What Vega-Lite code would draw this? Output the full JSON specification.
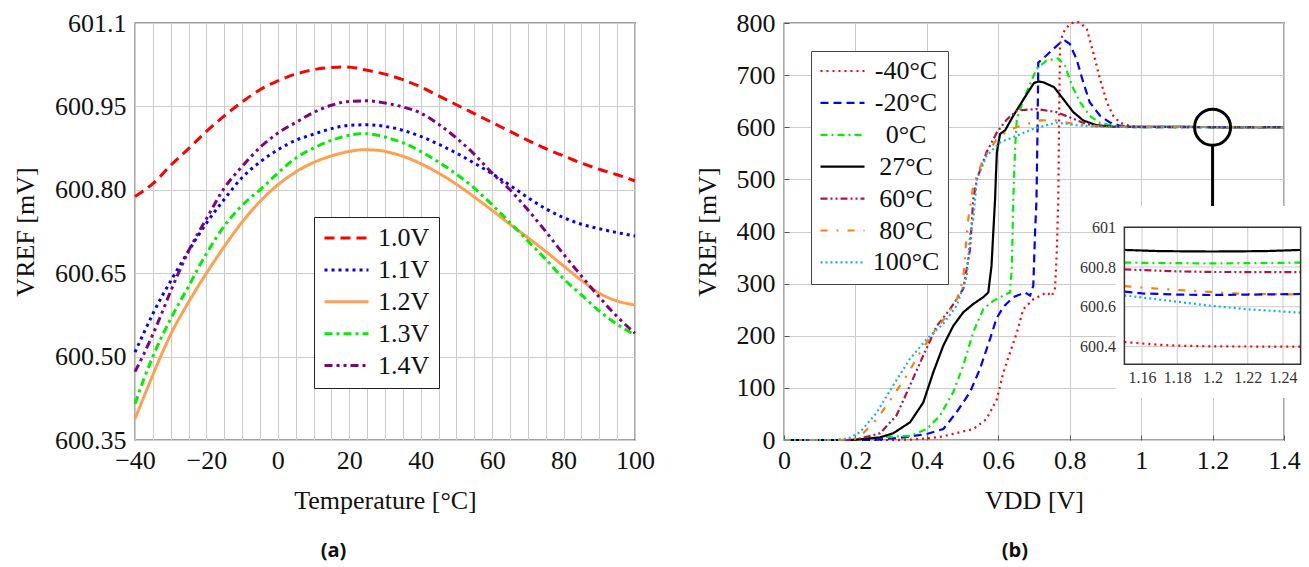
{
  "$schema": "https://vega.github.io/schema/vega-lite/v6.json",
  "autosize": "none",
  "padding": {"left": 135, "top": 23, "right": 1174, "bottom": 544},
  "background": "white",
  "bounds": "flush",
  "spacing": 149,
  "datasets": {
    "a": [
      {"s":"1.0V","T":-40,"V":600.788},{"s":"1.0V","T":-35,"V":600.811},{"s":"1.0V","T":-30,"V":600.844},{"s":"1.0V","T":-25,"V":600.874},{"s":"1.0V","T":-20,"V":600.905},{"s":"1.0V","T":-15,"V":600.933},{"s":"1.0V","T":-10,"V":600.958},{"s":"1.0V","T":-5,"V":600.98},{"s":"1.0V","T":0,"V":600.996},{"s":"1.0V","T":5,"V":601.008},{"s":"1.0V","T":10,"V":601.016},{"s":"1.0V","T":15,"V":601.02},{"s":"1.0V","T":18,"V":601.021},{"s":"1.0V","T":22,"V":601.019},{"s":"1.0V","T":25,"V":601.015},{"s":"1.0V","T":30,"V":601.008},{"s":"1.0V","T":35,"V":600.998},{"s":"1.0V","T":40,"V":600.985},{"s":"1.0V","T":45,"V":600.969},{"s":"1.0V","T":50,"V":600.953},{"s":"1.0V","T":55,"V":600.937},{"s":"1.0V","T":60,"V":600.921},{"s":"1.0V","T":65,"V":600.905},{"s":"1.0V","T":70,"V":600.889},{"s":"1.0V","T":75,"V":600.874},{"s":"1.0V","T":80,"V":600.861},{"s":"1.0V","T":85,"V":600.848},{"s":"1.0V","T":90,"V":600.837},{"s":"1.0V","T":95,"V":600.827},{"s":"1.0V","T":100,"V":600.816},
      {"s":"1.1V","T":-40,"V":600.508},{"s":"1.1V","T":-37.5,"V":600.543},{"s":"1.1V","T":-35,"V":600.577},{"s":"1.1V","T":-32.5,"V":600.608},{"s":"1.1V","T":-30,"V":600.636},{"s":"1.1V","T":-25,"V":600.69},{"s":"1.1V","T":-20,"V":600.74},{"s":"1.1V","T":-15,"V":600.783},{"s":"1.1V","T":-10,"V":600.822},{"s":"1.1V","T":-5,"V":600.85},{"s":"1.1V","T":0,"V":600.872},{"s":"1.1V","T":5,"V":600.889},{"s":"1.1V","T":10,"V":600.9},{"s":"1.1V","T":15,"V":600.91},{"s":"1.1V","T":20,"V":600.916},{"s":"1.1V","T":25,"V":600.917},{"s":"1.1V","T":30,"V":600.914},{"s":"1.1V","T":35,"V":600.907},{"s":"1.1V","T":40,"V":600.896},{"s":"1.1V","T":45,"V":600.882},{"s":"1.1V","T":50,"V":600.866},{"s":"1.1V","T":55,"V":600.848},{"s":"1.1V","T":60,"V":600.829},{"s":"1.1V","T":65,"V":600.808},{"s":"1.1V","T":70,"V":600.786},{"s":"1.1V","T":75,"V":600.766},{"s":"1.1V","T":80,"V":600.75},{"s":"1.1V","T":85,"V":600.738},{"s":"1.1V","T":90,"V":600.73},{"s":"1.1V","T":95,"V":600.723},{"s":"1.1V","T":100,"V":600.717},
      {"s":"1.2V","T":-40,"V":600.388},{"s":"1.2V","T":-37.5,"V":600.428},{"s":"1.2V","T":-35,"V":600.467},{"s":"1.2V","T":-32.5,"V":600.505},{"s":"1.2V","T":-30,"V":600.54},{"s":"1.2V","T":-25,"V":600.598},{"s":"1.2V","T":-20,"V":600.65},{"s":"1.2V","T":-15,"V":600.698},{"s":"1.2V","T":-10,"V":600.742},{"s":"1.2V","T":-5,"V":600.779},{"s":"1.2V","T":0,"V":600.809},{"s":"1.2V","T":5,"V":600.832},{"s":"1.2V","T":10,"V":600.849},{"s":"1.2V","T":15,"V":600.861},{"s":"1.2V","T":20,"V":600.869},{"s":"1.2V","T":24,"V":600.872},{"s":"1.2V","T":28,"V":600.871},{"s":"1.2V","T":32,"V":600.866},{"s":"1.2V","T":36,"V":600.858},{"s":"1.2V","T":40,"V":600.847},{"s":"1.2V","T":45,"V":600.83},{"s":"1.2V","T":50,"V":600.81},{"s":"1.2V","T":55,"V":600.787},{"s":"1.2V","T":60,"V":600.763},{"s":"1.2V","T":65,"V":600.738},{"s":"1.2V","T":70,"V":600.714},{"s":"1.2V","T":75,"V":600.689},{"s":"1.2V","T":80,"V":600.663},{"s":"1.2V","T":85,"V":600.637},{"s":"1.2V","T":90,"V":600.614},{"s":"1.2V","T":95,"V":600.6},{"s":"1.2V","T":100,"V":600.593},
      {"s":"1.3V","T":-40,"V":600.415},{"s":"1.3V","T":-37.5,"V":600.46},{"s":"1.3V","T":-35,"V":600.5},{"s":"1.3V","T":-32.5,"V":600.536},{"s":"1.3V","T":-30,"V":600.568},{"s":"1.3V","T":-27.5,"V":600.598},{"s":"1.3V","T":-25,"V":600.626},{"s":"1.3V","T":-22.5,"V":600.657},{"s":"1.3V","T":-20,"V":600.685},{"s":"1.3V","T":-15,"V":600.735},{"s":"1.3V","T":-10,"V":600.772},{"s":"1.3V","T":-5,"V":600.8},{"s":"1.3V","T":0,"V":600.83},{"s":"1.3V","T":5,"V":600.857},{"s":"1.3V","T":10,"V":600.875},{"s":"1.3V","T":15,"V":600.889},{"s":"1.3V","T":20,"V":600.898},{"s":"1.3V","T":24,"V":600.901},{"s":"1.3V","T":28,"V":600.898},{"s":"1.3V","T":32,"V":600.891},{"s":"1.3V","T":36,"V":600.882},{"s":"1.3V","T":40,"V":600.869},{"s":"1.3V","T":45,"V":600.85},{"s":"1.3V","T":50,"V":600.828},{"s":"1.3V","T":55,"V":600.803},{"s":"1.3V","T":60,"V":600.773},{"s":"1.3V","T":65,"V":600.741},{"s":"1.3V","T":70,"V":600.708},{"s":"1.3V","T":75,"V":600.675},{"s":"1.3V","T":80,"V":600.64},{"s":"1.3V","T":85,"V":600.611},{"s":"1.3V","T":90,"V":600.582},{"s":"1.3V","T":95,"V":600.558},{"s":"1.3V","T":100,"V":600.539},
      {"s":"1.4V","T":-40,"V":600.473},{"s":"1.4V","T":-37.5,"V":600.505},{"s":"1.4V","T":-35,"V":600.54},{"s":"1.4V","T":-32.5,"V":600.578},{"s":"1.4V","T":-30,"V":600.618},{"s":"1.4V","T":-27.5,"V":600.655},{"s":"1.4V","T":-25,"V":600.69},{"s":"1.4V","T":-22.5,"V":600.72},{"s":"1.4V","T":-20,"V":600.748},{"s":"1.4V","T":-15,"V":600.803},{"s":"1.4V","T":-10,"V":600.842},{"s":"1.4V","T":-5,"V":600.876},{"s":"1.4V","T":0,"V":600.902},{"s":"1.4V","T":5,"V":600.921},{"s":"1.4V","T":10,"V":600.939},{"s":"1.4V","T":15,"V":600.952},{"s":"1.4V","T":20,"V":600.959},{"s":"1.4V","T":25,"V":600.96},{"s":"1.4V","T":30,"V":600.956},{"s":"1.4V","T":35,"V":600.949},{"s":"1.4V","T":40,"V":600.938},{"s":"1.4V","T":45,"V":600.918},{"s":"1.4V","T":50,"V":600.893},{"s":"1.4V","T":55,"V":600.864},{"s":"1.4V","T":60,"V":600.83},{"s":"1.4V","T":65,"V":600.8},{"s":"1.4V","T":70,"V":600.764},{"s":"1.4V","T":75,"V":600.725},{"s":"1.4V","T":80,"V":600.684},{"s":"1.4V","T":85,"V":600.645},{"s":"1.4V","T":90,"V":600.607},{"s":"1.4V","T":95,"V":600.572},{"s":"1.4V","T":100,"V":600.542}
    ],
    "bmain": [
      {"T":"-40°C","VDD":0,"V":0},{"T":"-40°C","VDD":0.3,"V":0},{"T":"-40°C","VDD":0.36,"V":1},{"T":"-40°C","VDD":0.4,"V":3},{"T":"-40°C","VDD":0.446,"V":7},{"T":"-40°C","VDD":0.493,"V":15},{"T":"-40°C","VDD":0.53,"V":21},{"T":"-40°C","VDD":0.567,"V":40},{"T":"-40°C","VDD":0.596,"V":78},{"T":"-40°C","VDD":0.614,"V":129},{"T":"-40°C","VDD":0.633,"V":168},{"T":"-40°C","VDD":0.652,"V":206},{"T":"-40°C","VDD":0.67,"V":251},{"T":"-40°C","VDD":0.698,"V":270},{"T":"-40°C","VDD":0.736,"V":283},{"T":"-40°C","VDD":0.75,"V":276},{"T":"-40°C","VDD":0.759,"V":292},{"T":"-40°C","VDD":0.764,"V":366},{"T":"-40°C","VDD":0.768,"V":462},{"T":"-40°C","VDD":0.77,"V":600},{"T":"-40°C","VDD":0.773,"V":760},{"T":"-40°C","VDD":0.782,"V":782},{"T":"-40°C","VDD":0.8,"V":798},{"T":"-40°C","VDD":0.815,"V":802},{"T":"-40°C","VDD":0.829,"V":801},{"T":"-40°C","VDD":0.848,"V":788},{"T":"-40°C","VDD":0.866,"V":743},{"T":"-40°C","VDD":0.885,"V":692},{"T":"-40°C","VDD":0.904,"V":648},{"T":"-40°C","VDD":0.922,"V":622},{"T":"-40°C","VDD":0.94,"V":609},{"T":"-40°C","VDD":0.97,"V":602},{"T":"-40°C","VDD":1.0,"V":600},{"T":"-40°C","VDD":1.4,"V":600},
      {"T":"-20°C","VDD":0,"V":0},{"T":"-20°C","VDD":0.25,"V":0},{"T":"-20°C","VDD":0.334,"V":5},{"T":"-20°C","VDD":0.4,"V":11.5},{"T":"-20°C","VDD":0.446,"V":21},{"T":"-20°C","VDD":0.483,"V":53},{"T":"-20°C","VDD":0.521,"V":92},{"T":"-20°C","VDD":0.549,"V":137},{"T":"-20°C","VDD":0.577,"V":194},{"T":"-20°C","VDD":0.595,"V":233},{"T":"-20°C","VDD":0.614,"V":255},{"T":"-20°C","VDD":0.642,"V":274},{"T":"-20°C","VDD":0.675,"V":283},{"T":"-20°C","VDD":0.689,"V":277},{"T":"-20°C","VDD":0.698,"V":296},{"T":"-20°C","VDD":0.703,"V":398},{"T":"-20°C","VDD":0.707,"V":462},{"T":"-20°C","VDD":0.71,"V":600},{"T":"-20°C","VDD":0.712,"V":724},{"T":"-20°C","VDD":0.727,"V":733},{"T":"-20°C","VDD":0.754,"V":750},{"T":"-20°C","VDD":0.775,"V":763},{"T":"-20°C","VDD":0.787,"V":766},{"T":"-20°C","VDD":0.8,"V":760},{"T":"-20°C","VDD":0.819,"V":731},{"T":"-20°C","VDD":0.838,"V":686},{"T":"-20°C","VDD":0.856,"V":648},{"T":"-20°C","VDD":0.885,"V":622},{"T":"-20°C","VDD":0.913,"V":609},{"T":"-20°C","VDD":0.94,"V":603},{"T":"-20°C","VDD":0.98,"V":600},{"T":"-20°C","VDD":1.4,"V":600},
      {"T":"0°C","VDD":0,"V":0},{"T":"0°C","VDD":0.2,"V":0},{"T":"0°C","VDD":0.26,"V":5},{"T":"0°C","VDD":0.353,"V":8},{"T":"0°C","VDD":0.4,"V":21},{"T":"0°C","VDD":0.437,"V":47},{"T":"0°C","VDD":0.474,"V":92},{"T":"0°C","VDD":0.502,"V":143},{"T":"0°C","VDD":0.53,"V":207},{"T":"0°C","VDD":0.558,"V":251},{"T":"0°C","VDD":0.586,"V":267},{"T":"0°C","VDD":0.614,"V":277},{"T":"0°C","VDD":0.633,"V":283},{"T":"0°C","VDD":0.638,"V":334},{"T":"0°C","VDD":0.642,"V":462},{"T":"0°C","VDD":0.647,"V":560},{"T":"0°C","VDD":0.652,"V":616},{"T":"0°C","VDD":0.671,"V":654},{"T":"0°C","VDD":0.707,"V":712},{"T":"0°C","VDD":0.735,"V":728},{"T":"0°C","VDD":0.768,"V":732},{"T":"0°C","VDD":0.787,"V":718},{"T":"0°C","VDD":0.806,"V":680},{"T":"0°C","VDD":0.829,"V":648},{"T":"0°C","VDD":0.856,"V":622},{"T":"0°C","VDD":0.885,"V":608},{"T":"0°C","VDD":0.922,"V":603},{"T":"0°C","VDD":0.96,"V":600},{"T":"0°C","VDD":1.4,"V":600},
      {"T":"27°C","VDD":0,"V":0},{"T":"27°C","VDD":0.18,"V":0},{"T":"27°C","VDD":0.213,"V":1.3},{"T":"27°C","VDD":0.269,"V":5},{"T":"27°C","VDD":0.306,"V":13},{"T":"27°C","VDD":0.353,"V":34},{"T":"27°C","VDD":0.39,"V":72},{"T":"27°C","VDD":0.418,"V":130},{"T":"27°C","VDD":0.446,"V":181},{"T":"27°C","VDD":0.474,"V":219},{"T":"27°C","VDD":0.502,"V":245},{"T":"27°C","VDD":0.53,"V":261},{"T":"27°C","VDD":0.558,"V":274},{"T":"27°C","VDD":0.572,"V":283},{"T":"27°C","VDD":0.581,"V":334},{"T":"27°C","VDD":0.586,"V":398},{"T":"27°C","VDD":0.591,"V":462},{"T":"27°C","VDD":0.593,"V":500},{"T":"27°C","VDD":0.596,"V":552},{"T":"27°C","VDD":0.605,"V":587},{"T":"27°C","VDD":0.619,"V":594},{"T":"27°C","VDD":0.642,"V":622},{"T":"27°C","VDD":0.671,"V":654},{"T":"27°C","VDD":0.7,"V":685},{"T":"27°C","VDD":0.713,"V":688},{"T":"27°C","VDD":0.727,"V":686},{"T":"27°C","VDD":0.756,"V":677},{"T":"27°C","VDD":0.782,"V":654},{"T":"27°C","VDD":0.81,"V":629},{"T":"27°C","VDD":0.838,"V":613},{"T":"27°C","VDD":0.875,"V":604},{"T":"27°C","VDD":0.922,"V":601},{"T":"27°C","VDD":1.4,"V":600},
      {"T":"60°C","VDD":0,"V":0},{"T":"60°C","VDD":0.18,"V":0},{"T":"60°C","VDD":0.213,"V":3},{"T":"60°C","VDD":0.269,"V":13},{"T":"60°C","VDD":0.315,"V":47},{"T":"60°C","VDD":0.353,"V":105},{"T":"60°C","VDD":0.39,"V":162},{"T":"60°C","VDD":0.428,"V":219},{"T":"60°C","VDD":0.465,"V":251},{"T":"60°C","VDD":0.502,"V":290},{"T":"60°C","VDD":0.521,"V":366},{"T":"60°C","VDD":0.53,"V":462},{"T":"60°C","VDD":0.54,"V":500},{"T":"60°C","VDD":0.567,"V":552},{"T":"60°C","VDD":0.596,"V":590},{"T":"60°C","VDD":0.624,"V":615},{"T":"60°C","VDD":0.652,"V":632},{"T":"60°C","VDD":0.707,"V":635},{"T":"60°C","VDD":0.763,"V":629},{"T":"60°C","VDD":0.8,"V":619},{"T":"60°C","VDD":0.847,"V":606},{"T":"60°C","VDD":0.903,"V":601},{"T":"60°C","VDD":1.4,"V":600},
      {"T":"80°C","VDD":0,"V":0},{"T":"80°C","VDD":0.16,"V":0},{"T":"80°C","VDD":0.2,"V":3},{"T":"80°C","VDD":0.213,"V":7},{"T":"80°C","VDD":0.26,"V":40},{"T":"80°C","VDD":0.306,"V":85},{"T":"80°C","VDD":0.344,"V":124},{"T":"80°C","VDD":0.381,"V":168},{"T":"80°C","VDD":0.418,"V":206},{"T":"80°C","VDD":0.456,"V":239},{"T":"80°C","VDD":0.484,"V":270},{"T":"80°C","VDD":0.502,"V":309},{"T":"80°C","VDD":0.51,"V":380},{"T":"80°C","VDD":0.516,"V":424},{"T":"80°C","VDD":0.53,"V":488},{"T":"80°C","VDD":0.558,"V":539},{"T":"80°C","VDD":0.596,"V":577},{"T":"80°C","VDD":0.633,"V":596},{"T":"80°C","VDD":0.679,"V":606},{"T":"80°C","VDD":0.717,"V":613},{"T":"80°C","VDD":0.763,"V":613},{"T":"80°C","VDD":0.8,"V":608},{"T":"80°C","VDD":0.847,"V":603},{"T":"80°C","VDD":0.903,"V":601},{"T":"80°C","VDD":1.4,"V":600},
      {"T":"100°C","VDD":0,"V":0},{"T":"100°C","VDD":0.14,"V":0},{"T":"100°C","VDD":0.18,"V":3},{"T":"100°C","VDD":0.213,"V":15},{"T":"100°C","VDD":0.26,"V":53},{"T":"100°C","VDD":0.306,"V":105},{"T":"100°C","VDD":0.353,"V":156},{"T":"100°C","VDD":0.4,"V":194},{"T":"100°C","VDD":0.446,"V":223},{"T":"100°C","VDD":0.484,"V":258},{"T":"100°C","VDD":0.512,"V":315},{"T":"100°C","VDD":0.522,"V":400},{"T":"100°C","VDD":0.53,"V":424},{"T":"100°C","VDD":0.54,"V":500},{"T":"100°C","VDD":0.567,"V":545},{"T":"100°C","VDD":0.605,"V":571},{"T":"100°C","VDD":0.652,"V":584},{"T":"100°C","VDD":0.699,"V":597},{"T":"100°C","VDD":0.763,"V":609},{"T":"100°C","VDD":0.819,"V":604},{"T":"100°C","VDD":0.875,"V":601},{"T":"100°C","VDD":1.4,"V":600}
    ],
    "binset": [
      {"T":"27°C","VDD":1.15,"V":600.886},{"T":"27°C","VDD":1.17,"V":600.88},{"T":"27°C","VDD":1.2,"V":600.878},{"T":"27°C","VDD":1.23,"V":600.88},{"T":"27°C","VDD":1.25,"V":600.886},
      {"T":"0°C","VDD":1.15,"V":600.822},{"T":"0°C","VDD":1.2,"V":600.818},{"T":"0°C","VDD":1.25,"V":600.822},
      {"T":"60°C","VDD":1.15,"V":600.788},{"T":"60°C","VDD":1.18,"V":600.778},{"T":"60°C","VDD":1.2,"V":600.775},{"T":"60°C","VDD":1.25,"V":600.774},
      {"T":"80°C","VDD":1.15,"V":600.704},{"T":"80°C","VDD":1.17,"V":600.69},{"T":"80°C","VDD":1.19,"V":600.679},{"T":"80°C","VDD":1.21,"V":600.668},{"T":"80°C","VDD":1.22,"V":600.664},{"T":"80°C","VDD":1.25,"V":600.662},
      {"T":"-20°C","VDD":1.15,"V":600.676},{"T":"-20°C","VDD":1.16,"V":600.667},{"T":"-20°C","VDD":1.18,"V":600.661},{"T":"-20°C","VDD":1.2,"V":600.659},{"T":"-20°C","VDD":1.25,"V":600.664},
      {"T":"100°C","VDD":1.15,"V":600.657},{"T":"100°C","VDD":1.18,"V":600.625},{"T":"100°C","VDD":1.2,"V":600.604},{"T":"100°C","VDD":1.22,"V":600.587},{"T":"100°C","VDD":1.25,"V":600.57},
      {"T":"-40°C","VDD":1.15,"V":600.422},{"T":"-40°C","VDD":1.17,"V":600.408},{"T":"-40°C","VDD":1.18,"V":600.404},{"T":"-40°C","VDD":1.2,"V":600.4},{"T":"-40°C","VDD":1.25,"V":600.399}
    ],
    "igx": [{"gx":1.16},{"gx":1.18},{"gx":1.2},{"gx":1.22},{"gx":1.24}],
    "igy": [{"gy":600.4},{"gy":600.6},{"gy":600.8}]
  },
  "hconcat": [
    {
      "width": 500,
      "height": 417,
      "title": {"text": "(a)", "orient": "bottom", "anchor": "middle", "frame": "bounds", "offset": 28, "font": "Open Sans", "fontSize": 20, "fontWeight": "bold", "color": "#111"},
      "data": {"name": "a"},
      "mark": {"type": "line", "strokeWidth": 3, "interpolate": "monotone"},
      "encoding": {
        "x": {"field": "T", "type": "quantitative", "scale": {"domain": [-40, 100], "nice": false, "zero": false},
          "axis": {"title": "Temperature [°C]", "values": [-40,-35,-30,-25,-20,-15,-10,-5,0,5,10,15,20,25,30,35,40,45,50,55,60,65,70,75,80,85,90,95,100], "labelExpr": "datum.value % 20 === 0 ? format(datum.value, 'd') : ''", "grid": true, "labelPadding": 7, "titlePadding": 14}},
        "y": {"field": "V", "type": "quantitative", "scale": {"domain": [600.35, 601.1], "nice": false, "zero": false},
          "axis": {"title": "VREF [mV]", "values": [600.35, 600.5, 600.65, 600.8, 600.95, 601.1], "labelExpr": "datum.value > 601.05 ? '601.1' : format(datum.value, '.2f')", "grid": true, "labelPadding": 9, "titlePadding": 16}},
        "color": {"field": "s", "type": "nominal",
          "scale": {"domain": ["1.0V","1.1V","1.2V","1.3V","1.4V"], "range": ["#ff0000","#0000ff","#ffa050","#00ee00","#800080"]},
          "legend": {"title": null, "orient": "none", "legendX": 179, "legendY": 194, "direction": "vertical", "symbolType": "stroke", "symbolSize": 1936, "symbolStrokeWidth": 3, "labelFontSize": 26, "labelOffset": 8, "padding": 9, "rowPadding": 5.9, "clipHeight": 24, "strokeColor": "#222", "fillColor": "white", "labelLimit": 0}},
        "strokeDash": {"field": "s", "type": "nominal",
          "scale": {"domain": ["1.0V","1.1V","1.2V","1.3V","1.4V"], "range": [[10,6],[3,4],[1,0],[8,4,3,4],[8,4,3,4,3,4]]},
          "legend": {"title": null, "orient": "none", "legendX": 179, "legendY": 194, "direction": "vertical", "symbolType": "stroke", "symbolSize": 1936, "symbolStrokeWidth": 3, "labelFontSize": 26, "labelOffset": 8, "padding": 9, "rowPadding": 5.9, "clipHeight": 24, "strokeColor": "#222", "fillColor": "white", "labelLimit": 0}}
      }
    },
    {
      "width": 500,
      "height": 417,
      "title": {"text": "(b)", "orient": "bottom", "anchor": "middle", "frame": "bounds", "offset": 28, "font": "Open Sans", "fontSize": 20, "fontWeight": "bold", "color": "#111"},
      "layer": [
        {
          "layer": [
            {
              "data": {"name": "bmain"},
              "mark": {"type": "line", "strokeWidth": 2.2},
              "encoding": {
                "x": {"field": "VDD", "type": "quantitative", "scale": {"domain": [0, 1.4], "nice": false, "zero": false},
                  "axis": {"title": "VDD [V]", "values": [0,0.05,0.1,0.15,0.2,0.25,0.3,0.35,0.4,0.45,0.5,0.55,0.6,0.65,0.7,0.75,0.8,0.85,0.9,0.95,1,1.05,1.1,1.15,1.2,1.25,1.3,1.35,1.4],
                    "labelExpr": "abs(datum.value*5 - round(datum.value*5)) < 0.001 ? format(datum.value, '~f') : ''",
                    "gridOpacity": {"condition": {"test": "abs(datum.value*5 - round(datum.value*5)) < 0.001", "value": 1}, "value": 0},
                    "grid": true, "ticks": true, "tickSize": -5, "tickColor": "#555", "tickWidth": 1, "labelPadding": 12, "titlePadding": 14}},
                "y": {"field": "V", "type": "quantitative", "scale": {"domain": [0, 800], "nice": false},
                  "axis": {"title": "VREF [mV]", "values": [0,50,100,150,200,250,300,350,400,450,500,550,600,650,700,750,800],
                    "labelExpr": "datum.value % 100 === 0 ? format(datum.value, 'd') : ''",
                    "gridOpacity": {"condition": {"test": "datum.value % 100 === 0", "value": 1}, "value": 0},
                    "grid": true, "ticks": true, "tickSize": -5, "tickColor": "#555", "tickWidth": 1, "labelPadding": 14, "titlePadding": 16}},
                "color": {"field": "T", "type": "nominal",
                  "scale": {"domain": ["-40°C","-20°C","0°C","27°C","60°C","80°C","100°C"], "range": ["#ff0000","#0000ff","#00ee00","#000000","#b0124a","#ff8000","#14b0f0"]},
                  "legend": {"title": null, "orient": "none", "legendX": 27, "legendY": 28, "direction": "vertical", "symbolType": "stroke", "symbolSize": 1936, "symbolStrokeWidth": 2.2, "labelFontSize": 26, "labelAlign": "center", "labelOffset": 40, "padding": 8, "rowPadding": 5.9, "clipHeight": 24, "strokeColor": "#444", "fillColor": "white", "labelLimit": 0}},
                "strokeDash": {"field": "T", "type": "nominal",
                  "scale": {"domain": ["-40°C","-20°C","0°C","27°C","60°C","80°C","100°C"], "range": [[2,4],[8,5],[7,4,2,4],[1,0],[7,3,2,3,2,3],[7,9,2,9],[2,3]]},
                  "legend": {"title": null, "orient": "none", "legendX": 27, "legendY": 28, "direction": "vertical", "symbolType": "stroke", "symbolSize": 1936, "symbolStrokeWidth": 2.2, "labelFontSize": 26, "labelAlign": "center", "labelOffset": 40, "padding": 8, "rowPadding": 5.9, "clipHeight": 24, "strokeColor": "#444", "fillColor": "white", "labelLimit": 0}}
              }
            },
            {
              "data": {"values": [{"VDD": 1.2, "V": 600}]},
              "mark": {"type": "point", "shape": "circle", "size": 1296, "strokeWidth": 3, "color": "#000", "filled": false, "opacity": 1},
              "encoding": {
                "x": {"field": "VDD", "type": "quantitative"},
                "y": {"field": "V", "type": "quantitative"}
              }
            },
            {
              "data": {"values": [{"VDD": 1.2, "V": 564, "V2": 449}]},
              "mark": {"type": "rule", "strokeWidth": 3, "color": "#000"},
              "encoding": {
                "x": {"field": "VDD", "type": "quantitative"},
                "y": {"field": "V", "type": "quantitative"},
                "y2": {"field": "V2"}
              }
            }
          ]
        },
        {
          "layer": [
            {
              "data": {"values": [{"VDD": 1.1452, "VDD2": 1.27, "V": 600.14, "V2": 601.107}]},
              "mark": {"type": "rect", "fill": "white"},
              "encoding": {
                "x": {"field": "VDD", "type": "quantitative", "scale": {"domain": [1.15, 1.25], "range": [340.4, 516.6], "nice": false, "zero": false},
                  "axis": {"title": null, "orient": "bottom", "offset": -75.7, "zindex": 1, "values": [1.16,1.18,1.2,1.22,1.24], "format": "~f", "grid": false, "ticks": false, "labelFont": "Liberation Serif", "labelFontSize": 16, "labelColor": "#333", "labelPadding": 5}},
                "x2": {"field": "VDD2"},
                "y": {"field": "V", "type": "quantitative", "scale": {"domain": [600.31, 601], "range": [341.3, 204.3], "nice": false, "zero": false},
                  "axis": {"title": null, "orient": "left", "offset": -340.4, "zindex": 1, "values": [600.4,600.6,600.8,601], "format": "~f", "grid": false, "ticks": false, "labelFont": "Liberation Serif", "labelFontSize": 16, "labelColor": "#333", "labelPadding": 9}},
                "y2": {"field": "V2"}
              }
            },
            {
              "data": {"name": "igx"},
              "mark": {"type": "rule", "color": "#cccccc", "strokeWidth": 1},
              "encoding": {
                "x": {"field": "gx", "type": "quantitative"},
                "y": {"datum": 600.31, "type": "quantitative"},
                "y2": {"datum": 601}
              }
            },
            {
              "data": {"name": "igy"},
              "mark": {"type": "rule", "color": "#cccccc", "strokeWidth": 1},
              "encoding": {
                "y": {"field": "gy", "type": "quantitative"},
                "x": {"datum": 1.15, "type": "quantitative"},
                "x2": {"datum": 1.25}
              }
            },
            {
              "data": {"name": "binset"},
              "mark": {"type": "line", "strokeWidth": 2.2},
              "encoding": {
                "x": {"field": "VDD", "type": "quantitative"},
                "y": {"field": "V", "type": "quantitative"},
                "color": {"field": "T", "type": "nominal",
                  "scale": {"domain": ["-40°C","-20°C","0°C","27°C","60°C","80°C","100°C"], "range": ["#ff0000","#0000ff","#00ee00","#000000","#b0124a","#ff8000","#14b0f0"]}, "legend": null},
                "strokeDash": {"field": "T", "type": "nominal",
                  "scale": {"domain": ["-40°C","-20°C","0°C","27°C","60°C","80°C","100°C"], "range": [[2,4],[8,5],[7,4,2,4],[1,0],[7,3,2,3,2,3],[7,9,2,9],[2,3]]}, "legend": null}
              }
            },
            {
              "data": {"values": [{"VDD": 1.15, "VDD2": 1.25, "V": 600.31, "V2": 601}]},
              "mark": {"type": "rect", "fill": null, "fillOpacity": 0, "stroke": "#333", "strokeWidth": 1.5},
              "encoding": {
                "x": {"field": "VDD", "type": "quantitative"},
                "x2": {"field": "VDD2"},
                "y": {"field": "V", "type": "quantitative"},
                "y2": {"field": "V2"}
              }
            }
          ]
        }
      ],
      "resolve": {"scale": {"x": "independent", "y": "independent"}}
    }
  ],
  "resolve": {"scale": {"color": "independent", "strokeDash": "independent"}},
  "config": {
    "view": {"stroke": "#444", "strokeWidth": 1.3},
    "axis": {"labelFont": "Liberation Serif", "labelFontSize": 26, "labelColor": "#111", "titleFont": "Liberation Serif", "titleFontSize": 26, "titleFontWeight": "normal", "titleColor": "#111", "domain": false, "ticks": false, "gridColor": "#cccccc", "gridWidth": 1, "labelOverlap": false, "labelFlush": false},
    "legend": {"labelFont": "Liberation Serif", "labelFontSize": 26, "labelColor": "#111"},
    "line": {"strokeCap": "butt"}
  }
}
